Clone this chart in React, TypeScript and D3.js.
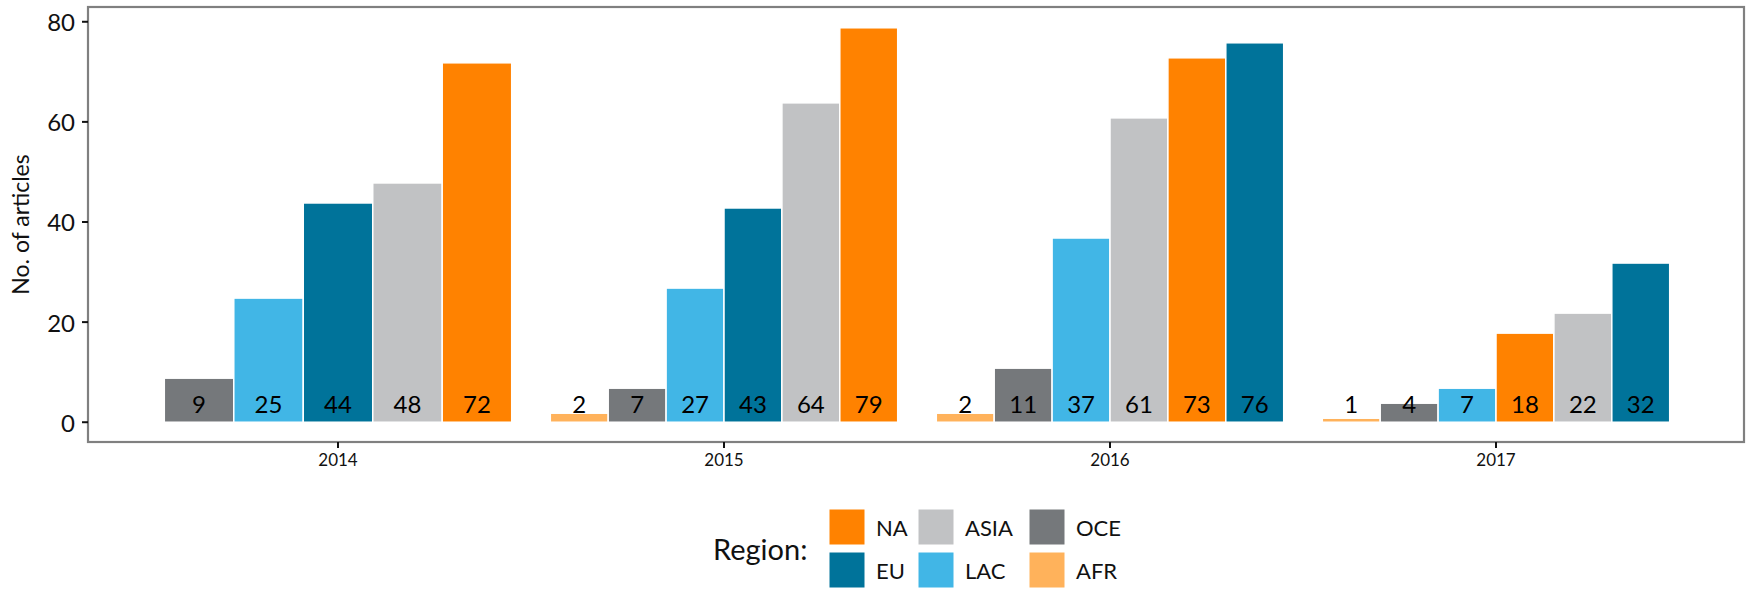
import * as d3 from 'd3';
import React from 'react';

// data
const years = ['2014', '2015', '2016', '2017'];
const regions = ['NA', 'EU', 'ASIA', 'LAC', 'OCE', 'AFR'];
const regionColors = ['#FF8200', '#00739A', '#C1C2C4', '#41B6E6', '#75787B', '#FFB25B'];
// counts per region, same order as regions (null = no bar)
const counts2014 = [72, 44, 48, 25, 9, null];
const counts2015 = [79, 43, 64, 27, 7, 2];
const counts2016 = [73, 76, 61, 37, 11, 2];
const counts2017 = [18, 32, 22, 7, 4, 1];
const yTicks = [0, 20, 40, 60, 80];

const allCounts = [counts2014, counts2015, counts2016, counts2017];
const font = 'Lato, "Open Sans", sans-serif';

const W = 1752;
const H = 589;
const panel = { left: 88, right: 1744, top: 7, bottom: 442 };

const App = () => {
  const x = d3.scalePoint<string>().domain(years).range([338, 1496]);
  const step = x.step();
  const yMax = d3.max(allCounts.flat().filter((d) => d != null) as number[]) as number;
  const y = d3.scaleLinear()
    .domain([-yMax * 0.05, yMax * 1.05])
    .range([panel.bottom, panel.top]);
  const color = d3.scaleOrdinal<string, string>().domain(regions).range(regionColors);

  const groups = years.map((yr, i) => {
    const rows = regions
      .map((r, j) => ({ region: r, value: allCounts[i][j] }))
      .filter((d) => d.value != null)
      .sort((a, b) => (a.value as number) - (b.value as number));
    const c = x(yr) as number;
    const band = d3.scaleBand<string>()
      .domain(rows.map((d) => d.region))
      .range([c - 0.45 * step, c + 0.45 * step]);
    return { yr, rows, band };
  });

  // legend laid out in 3 columns, 2 rows (filled by column)
  const legendCols = [829, 918, 1029];
  const legendRows = [509, 552];

  return (
    <svg width={W} height={H} style={{ position: 'absolute', left: 0, top: 0, background: '#fff' }}>
      {groups.map((g) => (
        <g key={g.yr}>
          {g.rows.map((d) => (
            <rect
              key={d.region}
              x={g.band(d.region)}
              width={g.band.bandwidth()}
              y={y(d.value as number) + 1}
              height={y(0) - y(d.value as number) - 1}
              fill={color(d.region)}
              stroke="#fff"
              strokeWidth={1.5}
            />
          ))}
          {g.rows.map((d) => (
            <text
              key={'t' + d.region}
              x={(g.band(d.region) as number) + g.band.bandwidth() / 2}
              y={y(1.8)}
              textAnchor="middle"
              fontFamily={font}
              fontSize={24}
              fill="#000"
            >
              {d.value}
            </text>
          ))}
        </g>
      ))}

      <rect
        x={panel.left}
        y={panel.top}
        width={panel.right - panel.left}
        height={panel.bottom - panel.top}
        fill="none"
        stroke="#808080"
        strokeWidth={2.2}
      />

      {yTicks.map((t) => (
        <g key={t}>
          <line x1={panel.left - 6} x2={panel.left} y1={y(t)} y2={y(t)} stroke="#111" strokeWidth={2} />
          <text
            x={panel.left - 13}
            y={y(t)}
            textAnchor="end"
            dominantBaseline="central"
            fontFamily={font}
            fontSize={24}
            fill="#111"
          >
            {t}
          </text>
        </g>
      ))}

      {years.map((yr) => (
        <g key={yr}>
          <line x1={x(yr)} x2={x(yr)} y1={panel.bottom} y2={panel.bottom + 6} stroke="#111" strokeWidth={2} />
          <text x={x(yr)} y={466} textAnchor="middle" fontFamily={font} fontSize={17} fill="#111">
            {yr}
          </text>
        </g>
      ))}

      <text
        transform={`translate(20, ${(panel.top + panel.bottom) / 2}) rotate(-90)`}
        textAnchor="middle"
        dominantBaseline="central"
        fontFamily={font}
        fontSize={23}
        fill="#111"
      >
        No. of articles
      </text>

      <text x={713} y={548} dominantBaseline="central" fontFamily={font} fontSize={29} fill="#111">
        Region:
      </text>
      {regions.map((r, i) => {
        const col = Math.floor(i / 2);
        const row = i % 2;
        const kx = legendCols[col];
        const ky = legendRows[row];
        return (
          <g key={r}>
            <rect x={kx} y={ky} width={36} height={36} fill={color(r)} stroke="#fff" strokeWidth={1} />
            <text x={kx + 47} y={ky + 18} dominantBaseline="central" fontFamily={font} fontSize={22} fill="#111">
              {r}
            </text>
          </g>
        );
      })}
    </svg>
  );
};

export default App;
